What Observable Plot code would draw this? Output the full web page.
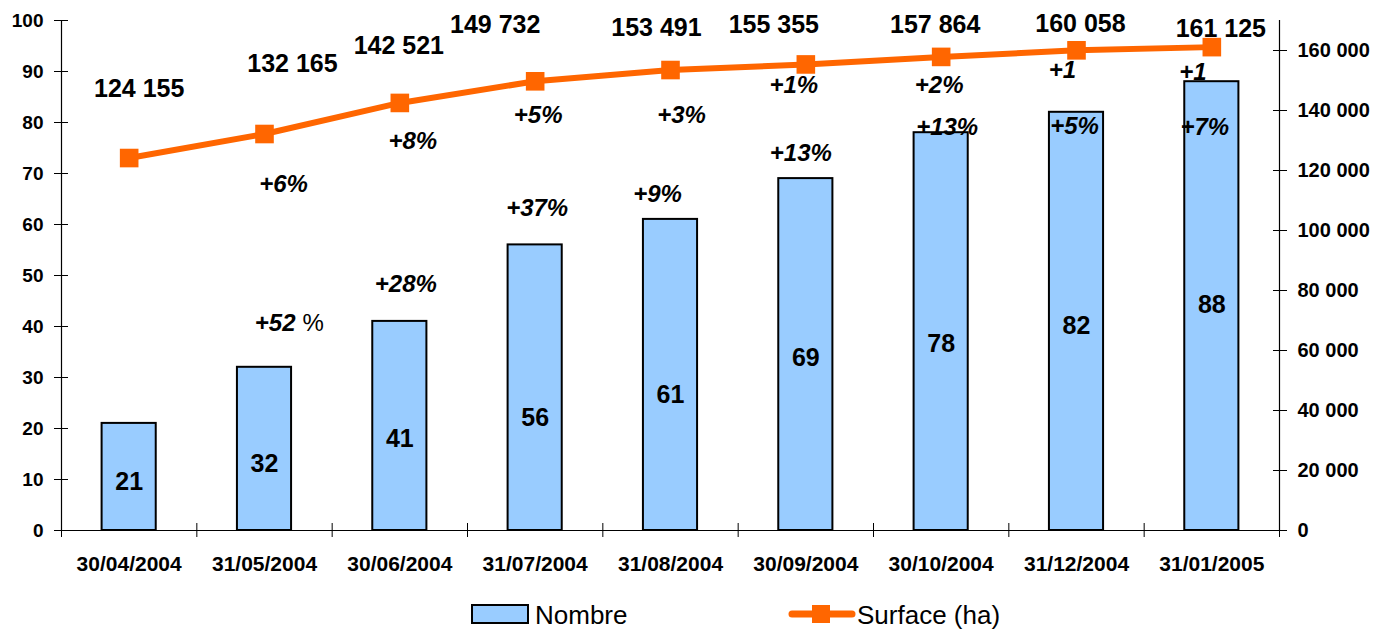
<!DOCTYPE html>
<html>
<head>
<meta charset="utf-8">
<script src="https://cdn.jsdelivr.net/npm/d3@7"></script>
<script src="https://cdn.jsdelivr.net/npm/@observablehq/plot@0.6"></script>
<style>
  body { margin: 0; background: #fff; font-family: "Liberation Sans", Arial, sans-serif; }
  #chart svg { display: block; }
  #legend { position: relative; width: 1390px; height: 41px; }
  #legend .sw-bar { position: absolute; left: 471px; top: 14px; width: 54px; height: 16px; background: #99CCFF; border: 2px solid #000; }
  #legend .lbl { position: absolute; top: 10px; font-size: 26px; line-height: 30px; color: #000; white-space: nowrap; }
  #legend svg { position: absolute; left: 788px; top: 0; }
</style>
</head>
<body>
<div id="chart"></div>
<div id="legend">
  <div class="sw-bar"></div>
  <span class="lbl" style="left:535px">Nombre</span>
  <svg width="68" height="41"><line x1="4" y1="24" x2="64" y2="24" stroke="#FF6600" stroke-width="7" stroke-linecap="round"/><rect x="24" y="15" width="18" height="18" fill="#FF6600"/></svg>
  <span class="lbl" style="left:857px">Surface (ha)</span>
</div>
<script>
// ---- data ----
const dates = ["30/04/2004", "31/05/2004", "30/06/2004", "31/07/2004", "31/08/2004", "30/09/2004", "30/10/2004", "31/12/2004", "31/01/2005"];
const nombre = [21, 32, 41, 56, 61, 69, 78, 82, 88];
const surface = [124155, 132165, 142521, 149732, 153491, 155355, 157864, 160058, 161125];
const nombrePct = [null, "+52 %", "+28%", "+37%", "+9%", "+13%", "+13%", "+5%", "+7%"];
const surfacePct = [null, "+6%", "+8%", "+5%", "+3%", "+1%", "+2%", "+1", "+1"];
const leftTicks = [0, 10, 20, 30, 40, 50, 60, 70, 80, 90, 100];
const rightTicks = [0, 20000, 40000, 60000, 80000, 100000, 120000, 140000, 160000];
const SURFACE_MAX = 170000; // top of the right-hand axis

// ---- layout nudges (pixels) for the hand-placed labels ----
const valueNudge = [[10,-69],[28,-70],[-1,-57],[-40,-56],[-14,-42],[-32,-39],[-6,-32],[4,-26],[9,-18]];
const surfPctNudge = [null,[19,50],[13,38],[3,34],[11,45],[-12,21],[-2,28],[-14,20],[-19,25]];
const barPctNudge = [null,[22,-44],[6,-37],[2,-37],[-13,-25],[-5,-25],[6,-5],[-2,14],[-7,46]];
const barValueDy = [5,15,13,30,20,3,12,5,-1];

const fmtSpace = v => d3.format(",")(v).replace(/,/g, " ");
const toLeft = v => v / SURFACE_MAX * 100;
const data = dates.map((date, i) => ({i, date, nombre: nombre[i], surface: surface[i]}));

const FONT = '"Liberation Sans", Arial, sans-serif';
const labelMarks = [];
data.forEach(d => {
  const sy = toLeft(d.surface);
  // surface values
  labelMarks.push(Plot.text([d], {x: "i", y: () => sy, text: () => fmtSpace(d.surface),
    dx: valueNudge[d.i][0], dy: valueNudge[d.i][1], fontSize: 25, fontWeight: "bold"}));
  // surface growth
  if (surfacePct[d.i]) labelMarks.push(Plot.text([d], {x: "i", y: () => sy, text: () => surfacePct[d.i],
    dx: surfPctNudge[d.i][0], dy: surfPctNudge[d.i][1], fontSize: 24, fontWeight: "bold", fontStyle: "italic"}));
  // bar value
  labelMarks.push(Plot.text([d], {x: "i", y: () => d.nombre / 2, text: () => String(d.nombre),
    dy: barValueDy[d.i], fontSize: 25, fontWeight: "bold"}));
  // bar growth
  const p = nombrePct[d.i];
  if (p) {
    const [nx, ny] = barPctNudge[d.i];
    if (p.includes(" ")) {
      const [num, pct] = p.split(" ");
      labelMarks.push(Plot.text([d], {x: "i", y: "nombre", text: () => num, textAnchor: "end",
        dx: nx + 9, dy: ny, fontSize: 24, fontWeight: "bold", fontStyle: "italic"}));
      labelMarks.push(Plot.text([d], {x: "i", y: "nombre", text: () => pct, textAnchor: "start",
        dx: nx + 16, dy: ny, fontSize: 24}));
    } else {
      labelMarks.push(Plot.text([d], {x: "i", y: "nombre", text: () => p,
        dx: nx, dy: ny, fontSize: 24, fontWeight: "bold", fontStyle: "italic"}));
    }
  }
});

const chart = Plot.plot({
  width: 1390,
  height: 590,
  marginLeft: 61,
  marginRight: 111,
  marginTop: 20,
  marginBottom: 60,
  style: {fontFamily: FONT, background: "#fff", color: "#000"},
  x: {type: "linear", domain: [-0.5, dates.length - 0.5], label: null},
  y: {domain: [0, 100], label: null},
  marks: [
    Plot.rect(data, {x1: d => d.i - 0.2, x2: d => d.i + 0.2, y1: 0, y2: "nombre",
      fill: "#99CCFF", stroke: "#000", strokeWidth: 2}),
    Plot.ruleY([0], {stroke: "#000", strokeWidth: 1.2}),
    Plot.ruleX([-0.5, dates.length - 0.5], {y1: 0, y2: 100, stroke: "#000", strokeWidth: 1.2}),
    Plot.axisY({ticks: leftTicks, tickSize: 14, dx: 7, tickPadding: 11, fontSize: 19, fontWeight: "bold", label: null}),
    Plot.axisY({anchor: "right", ticks: rightTicks.map(toLeft),
      tickFormat: v => fmtSpace(Math.round(v / 100 * SURFACE_MAX)),
      tickSize: 14, dx: -7, tickPadding: 11, fontSize: 20, fontWeight: "bold", label: null}),
    Plot.axisX({ticks: d3.range(dates.length), tickFormat: i => dates[i], tickSize: 0, tickPadding: 26,
      fontSize: 21, fontWeight: "bold", label: null}),
    Plot.axisX({ticks: d3.range(dates.length + 1).map(k => k - 0.5), tickSize: 14, dy: -7,
      fill: "none", label: null}),
    Plot.line(data, {x: "i", y: d => toLeft(d.surface), stroke: "#FF6600", strokeWidth: 6}),
    Plot.dot(data, {x: "i", y: d => toLeft(d.surface), symbol: "square", r: 10.5, fill: "#FF6600"}),
    ...labelMarks
  ]
});
document.getElementById("chart").append(chart);
</script>
</body>
</html>
